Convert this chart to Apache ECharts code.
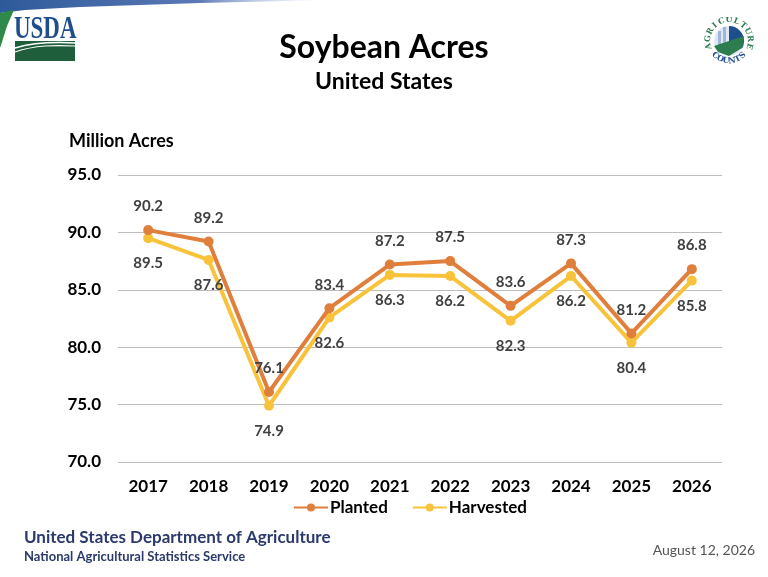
<!DOCTYPE html>
<html>
<head>
<meta charset="utf-8">
<script src="https://cdn.jsdelivr.net/npm/echarts@6/dist/echarts.min.js"></script>
<style>
  html, body { margin: 0; padding: 0; background: #fff; }
  #main { width: 768px; height: 577px; }
</style>
</head>
<body>
<div id="main"></div>
<script>
var years = ['2017', '2018', '2019', '2020', '2021', '2022', '2023', '2024', '2025', '2026'];
var planted = [90.2, 89.2, 76.1, 83.4, 87.2, 87.5, 83.6, 87.3, 81.2, 86.8];
var harvested = [89.5, 87.6, 74.9, 82.6, 86.3, 86.2, 82.3, 86.2, 80.4, 85.8];

var font = 'Lato, "Open Sans", sans-serif';
var myChart = echarts.init(document.getElementById('main'));

// curved letters for the "Agriculture Counts" badge
var badge = [];
var cx = 729, cy = 41;
var upperWord = 'AGRICULTURE';
for (var i = 0; i < upperWord.length; i++) {
	var a = Math.PI * (0.92 + 1.16 * i / (upperWord.length - 1));
	badge.push({
		type: 'text',
		x: cx + 21 * Math.cos(a), y: cy + 21 * Math.sin(a),
		rotation: -(a + Math.PI / 2),
		style: { text: upperWord[i], fill: '#2e7d4f', font: 'bold 8px "DejaVu Serif"', align: 'center', verticalAlign: 'middle' }
	});
}
var lowerWord = 'COUNTS';
for (var j = 0; j < lowerWord.length; j++) {
	var b = Math.PI * (0.74 - 0.48 * j / (lowerWord.length - 1));
	badge.push({
		type: 'text',
		x: cx + 20 * Math.cos(b), y: cy + 20 * Math.sin(b),
		rotation: -(b - Math.PI / 2),
		style: { text: lowerWord[j], fill: '#1f4e8c', font: 'bold 8px "DejaVu Serif"', align: 'center', verticalAlign: 'middle' }
	});
}

var option = {
	backgroundColor: '#ffffff',
	animation: false,
	title: [
		{
			text: 'Soybean Acres',
			left: 'center', top: 27,
			textStyle: { fontFamily: font, fontSize: 32, fontWeight: 'bold', color: '#000' }
		},
		{
			text: 'United States',
			left: 'center', top: 65,
			textStyle: { fontFamily: font, fontSize: 23, fontWeight: 'bold', color: '#000' }
		},
		{
			text: 'Million Acres',
			left: 64, top: 127,
			textStyle: { fontFamily: font, fontSize: 18, fontWeight: 'bold', color: '#000' }
		}
	],
	legend: {
		bottom: 56,
		left: 288,
		itemWidth: 34,
		itemHeight: 10,
		itemGap: 24,
		textStyle: { fontFamily: font, fontSize: 17, fontWeight: 'bold', color: '#000', padding: [0, 0, 0, -3] },
		data: ['Planted', 'Harvested']
	},
	grid: { left: 118, right: 46, top: 175, bottom: 115 },
	xAxis: {
		type: 'category',
		data: years,
		axisLine: { show: false },
		axisTick: { show: false },
		axisLabel: { fontFamily: font, fontSize: 17, fontWeight: 'bold', color: '#000', margin: 16 }
	},
	yAxis: {
		type: 'value',
		min: 70, max: 95, interval: 5,
		axisLine: { show: false },
		axisTick: { show: false },
		splitLine: { lineStyle: { color: '#bdbdbd', width: 1.2 } },
		axisLabel: {
			fontFamily: font, fontSize: 17, fontWeight: 'bold', color: '#000', margin: 17,
			formatter: function (v) { return v.toFixed(1); }
		}
	},
	series: [
		{
			name: 'Planted',
			type: 'line',
			data: planted,
			symbol: 'circle',
			symbolSize: 10,
			z: 3,
			itemStyle: { color: '#e07e3c' },
			lineStyle: { color: '#e07e3c', width: 4 },
			label: {
				show: true, position: 'top', distance: 11,
				fontFamily: font, fontSize: 15, fontWeight: 'bold', color: '#404040',
				formatter: function (p) { return p.value.toFixed(1); }
			}
		},
		{
			name: 'Harvested',
			type: 'line',
			data: harvested,
			symbol: 'circle',
			symbolSize: 10,
			z: 2,
			itemStyle: { color: '#f8c33b' },
			lineStyle: { color: '#f8c33b', width: 4 },
			label: {
				show: true, position: 'bottom', distance: 13,
				fontFamily: font, fontSize: 15, fontWeight: 'bold', color: '#404040',
				formatter: function (p) { return p.value.toFixed(1); }
			}
		}
	],
	graphic: [
		// top swoosh
		{
			type: 'polygon', silent: true,
			shape: { points: [[0, 0], [330, 0], [200, 3], [80, 7], [25, 10], [0, 13]] },
			style: { fill: new echarts.graphic.LinearGradient(0, 0, 1, 0, [
				{ offset: 0, color: '#2e5a9a' }, { offset: 0.6, color: '#5a78b5' }, { offset: 1, color: 'rgba(200,210,235,0)' }]) }
		},
		{
			type: 'polygon', silent: true,
			shape: { points: [[0, 13], [14, 10], [7, 26], [2, 42], [0, 48]] },
			style: { fill: '#2f8a4a' }
		},
		// USDA mark
		{
			type: 'text', x: 14, y: 14, scaleX: 0.74, silent: true,
			style: { text: 'USDA', fill: '#1f4e8c', font: 'bold 31px "Liberation Serif", serif' }
		},
		{
			type: 'rect', silent: true,
			shape: { x: 15, y: 41, width: 60, height: 20 },
			style: { fill: '#1e5e3a' }
		},
		{
			type: 'bezierCurve', silent: true,
			shape: { x1: 15, y1: 48, cpx1: 35, cpy1: 42, x2: 75, y2: 43, cpx2: 55, cpy2: 42 },
			style: { stroke: '#ffffff', lineWidth: 1.5, fill: null }
		},
		{
			type: 'bezierCurve', silent: true,
			shape: { x1: 15, y1: 52, cpx1: 35, cpy1: 45, x2: 75, y2: 46, cpx2: 55, cpy2: 45 },
			style: { stroke: '#ffffff', lineWidth: 1.2, fill: null }
		},
		// Agriculture Counts badge
		{
			type: 'circle', silent: true,
			shape: { cx: cx, cy: cy, r: 15 },
			style: { fill: '#dfe8f3' }
		},
		{
			type: 'sector', silent: true,
			shape: { cx: cx, cy: cy, r: 15, startAngle: Math.PI * 1.5, endAngle: Math.PI * 2.15 },
			style: { fill: '#1f4e8c' }
		},
		{
			type: 'rect', silent: true,
			shape: { x: cx - 11, y: cy - 10, width: 3, height: 14 },
			style: { fill: '#9fb7d6' }
		},
		{
			type: 'rect', silent: true,
			shape: { x: cx - 6, y: cy - 14, width: 3, height: 18 },
			style: { fill: '#9fb7d6' }
		},
		{
			type: 'polygon', silent: true,
			shape: { points: [[cx - 15, cy + 5], [cx + 15, cy - 5], [cx + 13, cy + 7], [cx, cy + 15], [cx - 11, cy + 11]] },
			style: { fill: '#2e7d4f' }
		},
		{ type: 'group', silent: true, children: badge },
		// footer
		{
			type: 'text', left: 24, top: 529, silent: true,
			style: { text: 'United States Department of Agriculture', fill: '#2b3a6b', font: 'bold 17px ' + font }
		},
		{
			type: 'text', left: 24, top: 550, silent: true,
			style: { text: 'National Agricultural Statistics Service', fill: '#2b3a6b', font: 'bold 13px ' + font }
		},
		{
			type: 'text', right: 13, top: 543, silent: true,
			style: { text: 'August 12, 2026', fill: '#555555', font: '14px ' + font }
		}
	]
};

myChart.setOption(option);
</script>
</body>
</html>
